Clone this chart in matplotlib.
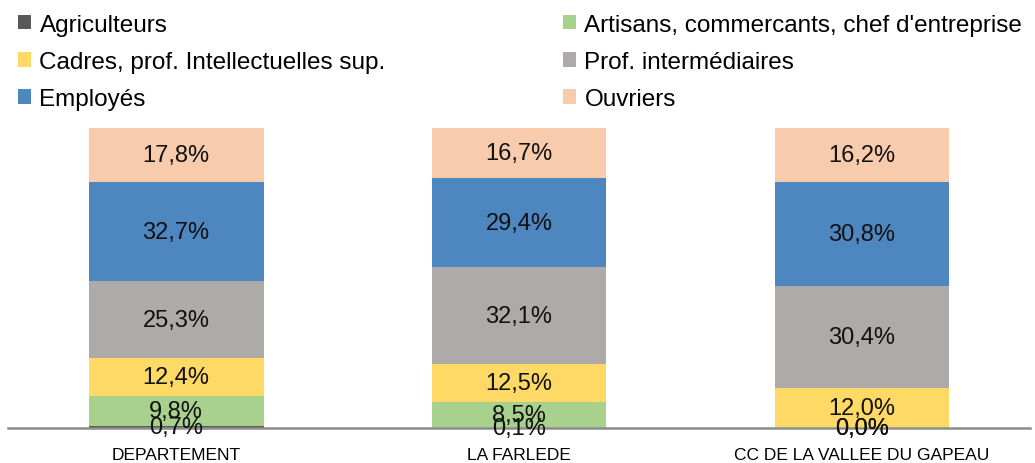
import matplotlib
matplotlib.use("Agg")
import matplotlib.pyplot as plt
from matplotlib.patches import Patch
import numpy as np

plt.rcParams['font.family'] = ['Liberation Sans', 'DejaVu Sans']

categories = ["DEPARTEMENT", "LA FARLEDE", "CC DE LA VALLEE DU GAPEAU"]
series_names = ["Agriculteurs", "Artisans, commercants, chef d'entreprise",
                "Cadres, prof. Intellectuelles sup.", "Prof. intermédiaires",
                "Employés", "Ouvriers"]
agriculteurs = [0.7, 0.1, 0.0]
artisans = [9.8, 8.5, 0.0]
cadres = [12.4, 12.5, 12.0]
prof_inter = [25.3, 32.1, 30.4]
employes = [32.7, 29.4, 30.8]
ouvriers = [17.8, 16.7, 16.2]
colors = ["#595959", "#A9D18E", "#FFD966", "#AEAAAA", "#4E86C0", "#F8CBAD"]

series = [agriculteurs, artisans, cadres, prof_inter, employes, ouvriers]
data = np.array(series, dtype=float)
totals = data.sum(axis=0)
norm = data / totals * 100.0

fig = plt.figure(figsize=(10.35, 4.64), dpi=100)
ax = fig.add_axes([8/1035, 35/464, (1030-8)/1035, (429-129)/464])
x = np.arange(len(categories))
bottom = np.zeros(len(categories))
for i in range(len(series)):
    ax.bar(x, norm[i], bottom=bottom, width=0.51, color=colors[i], zorder=2)
    for j in range(len(categories)):
        yc = bottom[j] + norm[i][j] / 2
        ax.text(x[j], yc, f"{data[i][j]:.1f}%".replace(".", ","), ha="center",
                va="center", fontsize=17, color="#111111", zorder=5, clip_on=False)
    bottom += norm[i]

ax.set_xlim(-0.49, 2.49)
ax.set_ylim(0, 100)
ax.set_yticks([])
ax.set_xticks(x)
ax.set_xticklabels(categories, fontsize=12.5)
ax.tick_params(axis="x", length=0, pad=14)
for s in ["top", "left", "right"]:
    ax.spines[s].set_visible(False)
ax.spines["bottom"].set_color("#8C8C8C")
ax.spines["bottom"].set_linewidth(1.8)
ax.spines["bottom"].set_zorder(3)

order1 = [0, 2, 4]
order2 = [1, 3, 5]
for order, xpos in [(order1, 3/1035), (order2, 548/1035)]:
    handles = [Patch(facecolor=colors[k], edgecolor="none") for k in order]
    labels = [series_names[k] for k in order]
    leg = fig.legend(handles, labels, loc="upper left", bbox_to_anchor=(xpos, 1.0),
                     frameon=False, fontsize=17.5, handlelength=0.55, handleheight=0.55,
                     handletextpad=0.35, labelspacing=0.63, borderaxespad=0.2)

fig.savefig("out.png", dpi=100)
